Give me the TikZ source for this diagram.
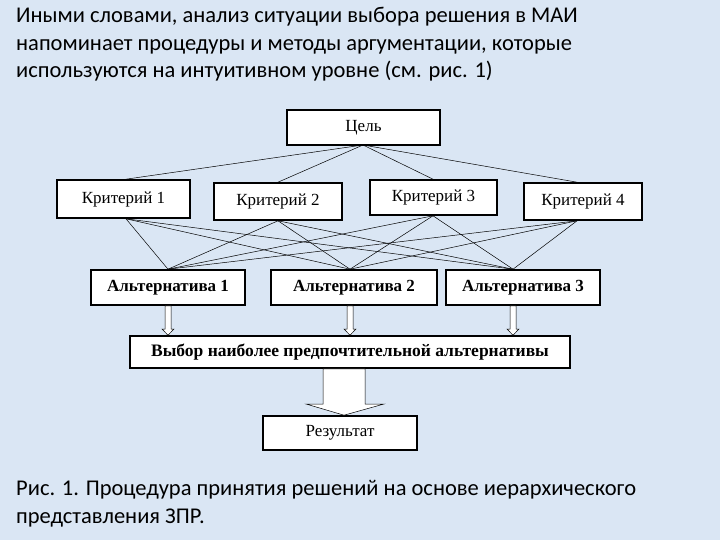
\documentclass[tikz,border=0pt]{standalone}
\usepackage{fontspec}
\setmainfont{Carlito}
\newfontfamily\boxfont{Liberation Serif}
\begin{document}
\begin{tikzpicture}[x=1pt,y=-1pt,
  box/.style={draw,line width=1.6pt,fill=white,inner sep=0pt,font=\boxfont\fontsize{17}{19}\selectfont},
  ln/.style={line width=0.5pt},
  harrow/.style={draw,fill=white,line width=0.5pt}]
\fill[fill={rgb,255:red,218;green,230;blue,244}] (0,0) rectangle (720,540);
\useasboundingbox (0,0) rectangle (720,540);
\node[anchor=north west,align=left,font=\fontsize{22.5}{27.5}\selectfont,inner sep=0pt] (title) at (16,7)
 {Иными словами, анализ ситуации выбора решения в МАИ\\напоминает процедуры и методы аргументации, которые\\используются на интуитивном уровне (см. рис. 1)};
\node[anchor=north west,align=left,font=\fontsize{22.5}{28}\selectfont,inner sep=0pt] (cap) at (16,480)
 {Рис. 1. Процедура принятия решений на основе иерархического\\представления ЗПР.};
\def\bx#1#2#3#4#5#6{\node[box,minimum width=#4-#2,minimum height=#5-#3] (#1) at ({(#2+#4)/2},{(#3+#5)/2}) {#6};}
\bx{goal}{287}{110}{440}{145}{Цель}
\bx{k1}{57}{180}{190}{218}{Критерий 1}
\bx{k2}{214}{183}{342}{220}{Критерий 2}
\bx{k3}{370}{180}{497}{215}{Критерий 3}
\bx{k4}{524}{183}{642}{220}{Критерий 4}
\bx{a1}{91}{270}{245}{305}{\textbf{Альтернатива 1}}
\bx{a2}{271}{270}{437}{305}{\textbf{Альтернатива 2}}
\bx{a3}{446}{270}{600}{305}{\textbf{Альтернатива 3}}
\bx{ch}{130}{336}{570}{368}{\fontsize{17.5}{19}\selectfont\textbf{Выбор наиболее предпочтительной альтернативы}}
\bx{res}{263}{416}{417}{450}{Результат}
\coordinate (g) at (363,145);
\foreach \k/\x in {k1/126,k2/278,k3/433,k4/577}{
  \draw[ln] (g) -- (\x,0 |- \k.north);}
\foreach \k/\x in {k1/126,k2/278,k3/433,k4/577}{
  \foreach \a/\y in {a1/168,a2/350,a3/513}{
    \draw[ln] (\x,0 |- \k.south) -- (\y,0 |- \a.north);}}
\foreach \a/\y in {a1/168,a2/350,a3/513}{
  \draw[harrow] (\y-3,0 |- \a.south) -- (\y-3,329) -- (\y-6,329) -- (\y,0 |- ch.north) -- (\y+6,329) -- (\y+3,329) -- (\y+3,0 |- \a.south) -- cycle;}
\draw[harrow] (323,0 |- ch.south) -- (323,404) -- (306,404) -- (344,0 |- res.north) -- (384,404) -- (365,404) -- (365,0 |- ch.south) -- cycle;
\end{tikzpicture}
\end{document}
